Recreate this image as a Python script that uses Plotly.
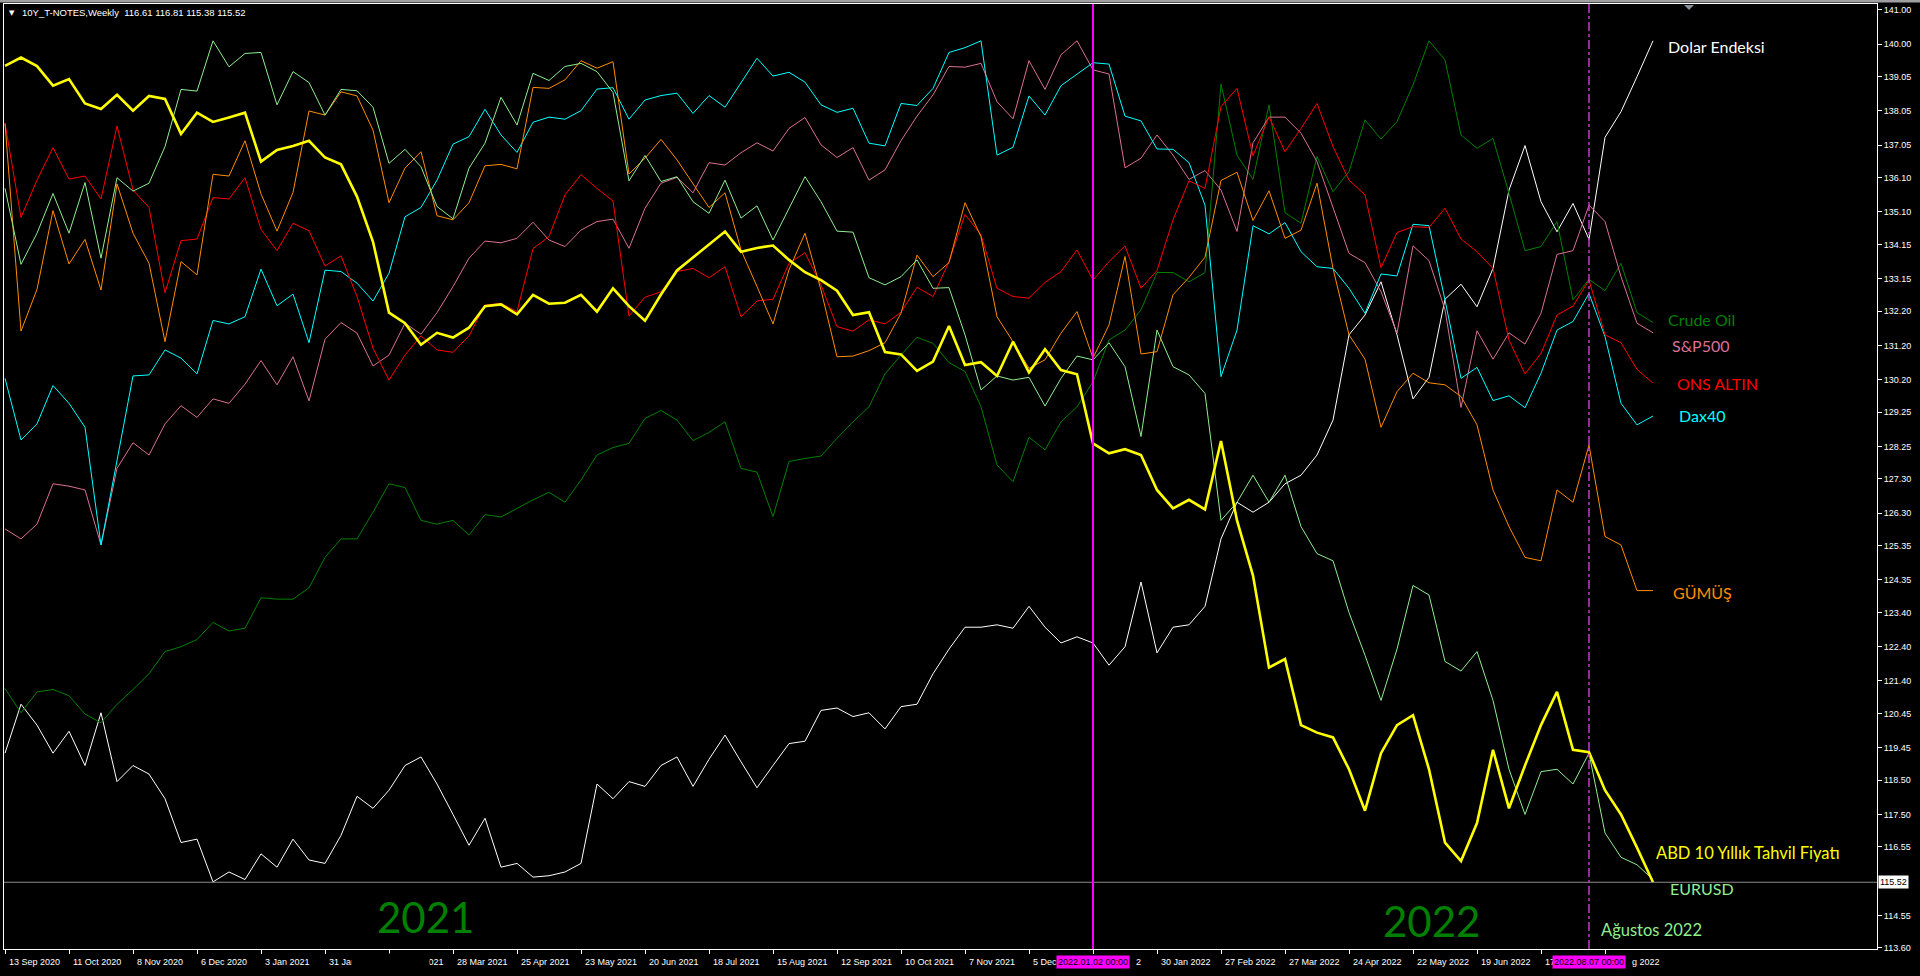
import plotly.graph_objects as go
import pandas as pd

# ---------------- data ----------------
weeks = pd.date_range("2020-09-13", periods=104, freq="7D")

tnote = [139.37, 139.61, 139.36, 138.79, 138.98, 138.27, 138.11, 138.52, 138.06, 138.49,
         138.40, 137.38, 138.00, 137.73, 137.86, 138.00, 136.57, 136.91, 137.03, 137.18,
         136.69, 136.49, 135.55, 134.23, 132.16, 131.85, 131.22, 131.57, 131.43, 131.72,
         132.35, 132.40, 132.11, 132.68, 132.42, 132.45, 132.68, 132.19, 132.87, 132.35,
         131.92, 132.69, 133.39, 133.77, 134.17, 134.53, 133.94, 134.05, 134.12, 133.70,
         133.34, 133.11, 132.80, 132.09, 132.17, 131.01, 130.94, 130.46, 130.73, 131.77,
         130.63, 130.71, 130.31, 131.31, 130.41, 131.09, 130.48, 130.36, 128.34, 128.05,
         128.17, 128.00, 126.98, 126.44, 126.69, 126.41, 128.41, 126.09, 124.48, 121.79,
         122.04, 120.11, 119.89, 119.75, 118.82, 117.61, 119.29, 120.11, 120.40, 118.82,
         116.68, 116.14, 117.25, 119.39, 117.68, 118.93, 120.11, 121.08, 119.39, 119.32,
         118.21, 117.50, 116.53, 115.52]

eurusd = [135.79, 133.57, 134.48, 135.64, 134.48, 135.96, 133.75, 136.10, 135.71, 135.94,
          137.01, 138.68, 138.63, 140.10, 139.34, 139.73, 139.76, 138.23, 139.20, 138.88,
          137.93, 138.68, 138.64, 138.16, 136.52, 136.93, 136.42, 135.26, 134.90, 136.38,
          137.11, 138.45, 137.64, 139.15, 138.94, 139.35, 139.44, 139.20, 138.59, 136.01,
          136.75, 135.99, 136.13, 135.40, 135.06, 136.03, 134.92, 135.28, 134.28, 135.21,
          136.13, 135.40, 134.54, 134.51, 133.18, 132.97, 133.21, 133.70, 132.87, 132.89,
          131.51, 129.90, 130.31, 130.19, 130.27, 129.43, 130.24, 130.89, 130.78, 131.28,
          130.58, 128.54, 131.65, 130.58, 130.34, 129.80, 126.09, 126.62, 127.41, 126.62,
          127.41, 125.91, 125.12, 124.91, 123.40, 122.15, 120.83, 122.33, 124.19, 123.91,
          121.97, 121.69, 122.26, 120.83, 118.82, 117.50, 118.75, 118.82, 118.39, 119.29,
          116.96, 116.25, 116.03, 115.60]

silver = [137.69, 131.62, 132.84, 135.14, 133.58, 134.30, 132.82, 135.92, 134.48, 133.60,
          131.31, 133.65, 133.26, 136.20, 136.15, 137.18, 135.63, 134.54, 135.67, 138.05,
          137.93, 138.61, 138.49, 137.49, 135.37, 136.38, 136.86, 134.99, 134.87, 135.37,
          136.45, 136.49, 136.36, 138.74, 138.71, 138.96, 139.52, 139.30, 139.49, 136.21,
          136.67, 137.22, 136.62, 135.94, 135.23, 135.66, 133.99, 132.92, 131.83, 133.41,
          134.48, 132.82, 130.87, 130.89, 131.05, 131.28, 132.14, 133.84, 133.21, 133.62,
          135.37, 134.38, 132.04, 131.31, 130.53, 130.78, 131.56, 132.19, 130.83, 131.80,
          133.80, 130.95, 131.02, 132.68, 133.19, 133.78, 136.02, 136.26, 134.85, 135.72,
          134.33, 134.57, 135.94, 133.45, 131.51, 130.80, 128.81, 129.85, 130.39, 130.11,
          130.05, 129.71, 128.88, 126.98, 125.91, 125.01, 124.91, 126.98, 126.62, 128.29,
          125.62, 125.37, 124.04, 124.04]

gold = [137.69, 134.94, 136.03, 136.98, 136.06, 136.15, 135.48, 137.61, 135.74, 135.23,
        132.74, 134.26, 134.31, 135.52, 135.48, 136.10, 134.59, 133.97, 134.77, 134.55,
        133.52, 133.82, 132.63, 131.12, 130.19, 130.92, 131.48, 131.07, 131.00, 131.48,
        132.38, 132.43, 132.19, 134.03, 134.38, 135.60, 136.19, 135.79, 135.42, 132.06,
        132.61, 132.77, 133.36, 133.45, 133.18, 133.50, 132.04, 132.50, 132.55, 133.60,
        133.91, 132.97, 131.75, 131.62, 131.95, 131.83, 132.17, 132.90, 132.63, 133.65,
        135.03, 134.43, 132.87, 132.63, 132.58, 133.04, 133.36, 133.99, 133.11, 133.65,
        134.11, 132.87, 133.39, 134.87, 136.01, 135.79, 138.18, 138.71, 136.74, 137.88,
        136.86, 137.54, 138.27, 137.01, 136.03, 135.60, 133.47, 134.50, 134.67, 134.65,
        135.21, 134.31, 133.94, 133.45, 131.36, 130.37, 130.97, 132.09, 132.35, 133.11,
        131.51, 131.28, 130.50, 130.10]

dax = [130.24, 128.44, 128.91, 130.03, 129.51, 128.81, 125.37, 127.87, 130.31, 130.34,
       131.07, 130.83, 130.37, 131.93, 131.83, 132.04, 133.43, 132.36, 132.70, 131.28,
       133.40, 133.36, 133.02, 132.50, 133.31, 134.96, 135.23, 136.03, 137.08, 137.30,
       138.10, 137.35, 136.84, 137.72, 137.87, 137.81, 138.06, 138.69, 138.73, 137.81,
       138.37, 138.50, 138.57, 137.98, 138.50, 138.16, 138.86, 139.59, 139.07, 139.18,
       138.89, 138.23, 138.01, 138.13, 137.11, 137.03, 138.27, 138.21, 138.71, 139.76,
       139.90, 140.10, 136.76, 136.99, 138.49, 137.93, 138.79, 139.13, 139.46, 139.42,
       137.90, 137.76, 136.94, 136.93, 136.54, 135.30, 130.29, 131.65, 134.70, 134.46,
       134.79, 133.94, 133.50, 133.45, 132.87, 132.14, 133.29, 133.23, 134.74, 134.70,
       132.53, 130.24, 130.56, 129.59, 129.73, 129.38, 130.39, 131.65, 131.90, 132.72,
       131.46, 129.51, 128.88, 129.14]

spx = [125.84, 125.55, 125.98, 127.16, 127.09, 126.98, 125.37, 127.61, 128.36, 128.00,
       128.91, 129.44, 129.10, 129.64, 129.51, 130.07, 130.76, 130.05, 130.87, 129.58,
       131.38, 131.87, 131.56, 130.60, 130.92, 131.85, 131.53, 132.16, 132.92, 133.75,
       134.25, 134.20, 134.33, 134.80, 134.28, 134.09, 134.57, 134.82, 134.89, 134.04,
       135.21, 135.94, 136.11, 135.66, 136.54, 136.47, 136.83, 137.12, 136.88, 137.54,
       137.86, 137.06, 136.69, 136.98, 136.03, 136.33, 137.18, 137.90, 138.52, 139.35,
       139.33, 139.44, 138.32, 137.82, 139.52, 138.68, 139.69, 140.10, 139.25, 139.13,
       136.39, 136.67, 137.35, 136.76, 136.05, 136.31, 135.74, 134.53, 137.12, 137.87,
       137.87, 137.40, 136.57, 135.26, 133.89, 133.62, 132.77, 131.56, 134.11, 133.68,
       132.24, 129.39, 131.63, 130.80, 131.57, 131.24, 132.14, 133.86, 133.97, 135.30,
       134.82, 133.21, 131.85, 131.57]

crude = [121.18, 120.47, 121.08, 121.15, 120.97, 120.43, 120.18, 120.72, 121.15, 121.61,
         122.26, 122.40, 122.61, 123.11, 122.86, 122.94, 123.83, 123.79, 123.79, 124.12,
         125.01, 125.55, 125.55, 126.33, 127.16, 127.05, 126.09, 125.98, 126.09, 125.66,
         126.26, 126.19, 126.44, 126.69, 126.91, 126.62, 127.27, 128.00, 128.22, 128.34,
         129.07, 129.30, 129.02, 128.42, 128.66, 128.97, 127.61, 127.50, 126.20, 127.81,
         127.90, 127.97, 128.49, 128.97, 129.41, 130.37, 130.92, 131.44, 131.26, 130.70,
         130.44, 129.41, 127.71, 127.22, 128.52, 128.15, 128.97, 129.41, 130.14, 131.36,
         131.65, 132.24, 133.33, 133.33, 133.06, 133.33, 138.84, 136.76, 136.05, 138.23,
         135.08, 134.77, 136.72, 135.69, 136.28, 137.79, 137.23, 137.74, 138.81, 140.10,
         139.54, 137.35, 136.96, 137.25, 135.64, 133.97, 134.09, 134.82, 132.53, 133.13,
         132.80, 133.60, 132.16, 131.87]

dxy = [119.29, 120.72, 120.11, 119.29, 119.93, 118.93, 120.47, 118.46, 118.93, 118.68,
       117.96, 116.68, 116.78, 115.53, 115.82, 115.60, 116.35, 115.96, 116.78, 116.17,
       116.07, 116.89, 118.03, 117.68, 118.21, 118.93, 119.18, 118.39, 117.50, 116.60,
       117.39, 115.96, 116.07, 115.67, 115.71, 115.82, 116.07, 118.39, 117.96, 118.46,
       118.32, 118.93, 119.18, 118.32, 119.11, 119.82, 119.04, 118.28, 118.93, 119.57,
       119.64, 120.54, 120.61, 120.36, 120.47, 120.00, 120.65, 120.72, 121.61, 122.33,
       122.97, 122.97, 123.04, 122.94, 123.58, 122.97, 122.51, 122.69, 122.51, 121.86,
       122.40, 124.29, 122.22, 122.97, 123.04, 123.58, 125.55, 126.62, 126.33, 126.62,
       127.16, 127.41, 128.00, 129.02, 131.51, 132.09, 133.06, 131.51, 129.64, 130.27,
       132.55, 132.99, 132.33, 133.45, 135.74, 137.04, 135.40, 134.52, 135.35, 134.30,
       137.28, 138.03, 139.05, 140.10]

x_tick_dates = ["2020-09-13", "2020-10-11", "2020-11-08", "2020-12-06", "2021-01-03",
                "2021-01-31", "2021-02-28", "2021-03-28", "2021-04-25", "2021-05-23",
                "2021-06-20", "2021-07-18", "2021-08-15", "2021-09-12", "2021-10-10",
                "2021-11-07", "2021-12-05", "2022-01-02", "2022-01-30", "2022-02-27",
                "2022-03-27", "2022-04-24", "2022-05-22", "2022-06-19", "2022-07-17",
                "2022-08-14"]
x_tick_labels = ["13 Sep 2020", "11 Oct 2020", "8 Nov 2020", "6 Dec 2020", "3 Jan 2021",
                 "31 Jan 2021", "28 Feb 2021", "28 Mar 2021", "25 Apr 2021", "23 May 2021",
                 "20 Jun 2021", "18 Jul 2021", "15 Aug 2021", "12 Sep 2021", "10 Oct 2021",
                 "7 Nov 2021", "5 Dec 2021", "2 Jan 2022", "30 Jan 2022", "27 Feb 2022",
                 "27 Mar 2022", "24 Apr 2022", "22 May 2022", "19 Jun 2022", "17 Jul 2022",
                 "14 Aug 2022"]
# the parts of the tick labels that stay visible next to the date boxes
# (label index -> (visible text, left pixel of that text))
x_tick_visible = {16: ("5 Dec", None), 17: ("2", 1134), 24: ("17", None), 25: ("g 2022", 1630)}

y_tick_labels = ["141.00", "140.00", "139.05", "138.05", "137.05", "136.10", "135.10",
                 "134.15", "133.15", "132.20", "131.20", "130.20", "129.25", "128.25",
                 "127.30", "126.30", "125.35", "124.35", "123.40", "122.40", "121.40",
                 "120.45", "119.45", "118.50", "117.50", "116.55", "114.55", "113.60"]

last_price = 115.52
header_text = "10Y_T-NOTES,Weekly  116.61 116.81 115.38 115.52"
marker_dates = ["2022-01-02", "2022-08-07"]
marker_labels = ["2022.01.02 00:00", "2022.08.07 00:00"]

# ---------------- geometry helpers (pixel layout of the terminal window) ----------------
W, H = 1920, 976
PL, PR, PT, PB = 4, 1877, 4, 949          # plot-area edges in pixels


def px_x(px):
    return (px - PL) / (PR - PL)


def px_y(py):
    return (PB - py) / (PB - PT)


week0 = weeks[0]
x_lo = week0 - pd.Timedelta(days=7 / 16)
x_hi = week0 + pd.Timedelta(days=7 * 117)

LBL_FONT = "Liberation Sans"
TXT_FONT = "Lato"

fig = go.Figure()

series = [
    ("Dolar Endeksi", dxy, "#FFFFFF", 1),
    ("Crude Oil", crude, "#008000", 1),
    ("S&P500", spx, "#DB7093", 1),
    ("Dax40", dax, "#00FFFF", 1),
    ("ONS ALTIN", gold, "#FF0000", 1),
    ("GÜMÜŞ", silver, "#FF8C00", 1),
    ("EURUSD", eurusd, "#90EE90", 1),
    ("ABD 10 Yıllık Tahvil Fiyatı", tnote, "#FFFF00", 2.6),
]
for name, vals, col, w in series:
    fig.add_trace(go.Scatter(x=weeks, y=vals, mode="lines", name=name,
                             line=dict(color=col, width=w), hoverinfo="skip"))

shapes = []
# current price line
shapes.append(dict(type="line", xref="paper", yref="y", x0=0, x1=1, y0=last_price, y1=last_price,
                   line=dict(color="#8C8C8C", width=1)))
# vertical markers
shapes.append(dict(type="line", xref="x", yref="paper", x0=marker_dates[0], x1=marker_dates[0],
                   y0=0, y1=1, line=dict(color="#FF00FF", width=2)))
shapes.append(dict(type="line", xref="x", yref="paper", x0=marker_dates[1], x1=marker_dates[1],
                   y0=0, y1=1, line=dict(color="#C83CC8", width=1.5, dash="dashdot")))
# little shift marker at the top
tx = 1689
shapes.append(dict(type="path", xref="paper", yref="paper",
                   path=f"M {px_x(tx-5)},{px_y(5)} L {px_x(tx+5)},{px_y(5)} L {px_x(tx)},{px_y(10)} Z",
                   fillcolor="#8A8F99", line=dict(width=0)))
# window frame top strip
shapes.append(dict(type="rect", xref="paper", yref="paper", x0=px_x(0), x1=px_x(W),
                   y0=px_y(0), y1=px_y(2.5), fillcolor="#A0A0A0", line=dict(width=0)))

annotations = []
# x tick labels (left aligned, MetaTrader style)
for k, (d, t) in enumerate(zip(x_tick_dates, x_tick_labels)):
    if k in x_tick_visible:
        t, left_px = x_tick_visible[k]
        if left_px is not None:
            annotations.append(dict(x=px_x(left_px), xref="paper", y=0, yref="paper", yshift=-13,
                                    text=t, showarrow=False, xanchor="left", yanchor="middle",
                                    font=dict(family=LBL_FONT, size=9, color="white")))
            continue
    annotations.append(dict(x=d, xref="x", y=0, yref="paper", yshift=-13, xshift=2,
                            text=t, showarrow=False, xanchor="left", yanchor="middle",
                            font=dict(family=LBL_FONT, size=9, color="white")))
# hidden part of the axis labels
annotations.append(dict(x=px_x(351), xref="paper", y=0, yref="paper", yshift=-13,
                        text="&nbsp;", showarrow=False, xanchor="left", yanchor="middle",
                        width=75, height=14, bgcolor="black"))
# vertical-line date boxes
for d, t in zip(marker_dates, marker_labels):
    annotations.append(dict(x=d, xref="x", y=0, yref="paper", yshift=-13,
                            text=t, showarrow=False, xanchor="center", yanchor="middle",
                            bgcolor="#FF00FF", borderpad=1,
                            font=dict(family=LBL_FONT, size=9, color="black")))
# current price box
annotations.append(dict(x=1, xref="paper", y=last_price, yref="y", xshift=1,
                        text=f"{last_price:.2f}", showarrow=False, xanchor="left", yanchor="middle",
                        bgcolor="white", borderpad=1,
                        font=dict(family=LBL_FONT, size=9, color="black")))
# header
annotations.append(dict(x=px_x(7), xref="paper", y=px_y(13), yref="paper",
                        text="▼", showarrow=False, xanchor="left", yanchor="middle",
                        font=dict(family="DejaVu Sans", size=7, color="white")))
annotations.append(dict(x=px_x(20), xref="paper", y=px_y(13), yref="paper",
                        text=header_text.replace("  ", "&nbsp; "), showarrow=False,
                        xanchor="left", yanchor="middle",
                        font=dict(family=LBL_FONT, size=9.5, color="white")))

# series names and other text objects (pixel positions in the window)
text_objects = [
    ("Dolar Endeksi", 1666, 47, "#FFFFFF", 16),
    ("Crude Oil", 1666, 320, "#008000", 16),
    ("S&P500", 1670, 345, "#DB7093", 16),
    ("ONS ALTIN", 1675, 383, "#FF0000", 16),
    ("Dax40", 1677, 415, "#00FFFF", 16),
    ("GÜMÜŞ", 1671, 592, "#FF8C00", 16),
    ("ABD 10 Yıllık Tahvil Fiyatı", 1654, 853, "#FFFF00", 16.5),
    ("EURUSD", 1668, 888, "#90EE90", 16),
    ("Ağustos 2022", 1599, 930, "#90EE90", 16.5),
    ("2021", 375, 917, "#008000", 42),
    ("2022", 1381, 921, "#008000", 42),
]
for t, px, py, col, sz in text_objects:
    annotations.append(dict(x=px_x(px), xref="paper", y=px_y(py), yref="paper",
                            text=t, showarrow=False, xanchor="left", yanchor="middle",
                            font=dict(family=TXT_FONT, size=sz, color=col)))

fig.update_layout(
    width=W, height=H,
    margin=dict(l=PL, r=W - PR, t=PT, b=H - PB, pad=0),
    paper_bgcolor="black", plot_bgcolor="black",
    showlegend=False,
    shapes=shapes, annotations=annotations,
    xaxis=dict(type="date", range=[x_lo, x_hi], tickvals=x_tick_dates, ticks="outside",
               ticklen=4, tickcolor="white", tickwidth=1, showticklabels=False,
               showgrid=False, zeroline=False, showline=True, linecolor="white",
               linewidth=1, mirror=True),
    yaxis=dict(side="right", range=[113.57, 141.175],
               tickvals=[float(v) for v in y_tick_labels], ticktext=y_tick_labels,
               ticks="outside", ticklen=4, tickcolor="white", tickwidth=1,
               tickfont=dict(family=LBL_FONT, size=9, color="white"),
               showgrid=False, zeroline=False, showline=True, linecolor="white",
               linewidth=1, mirror=True),
)

fig.write_html("out.html", config={"displayModeBar": False},
               post_script="document.body.style.margin='0';document.body.style.overflow='hidden';")
